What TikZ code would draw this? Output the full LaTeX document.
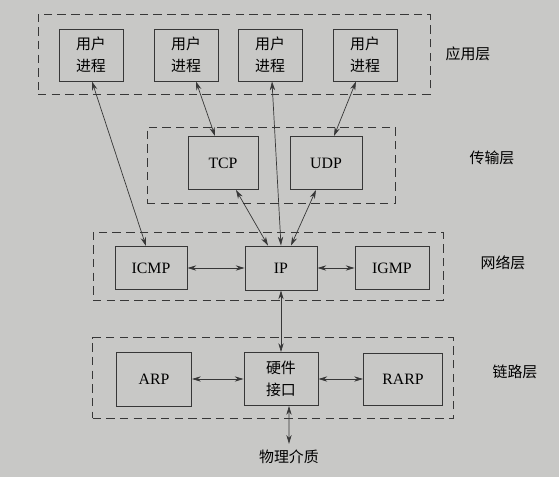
\documentclass[tikz,border=0pt]{standalone}
\usepackage{fontspec}
\setmainfont{Liberation Serif}
\newfontfamily\cjk{Noto Sans CJK SC}
\usetikzlibrary{arrows.meta, positioning}
\definecolor{pagegray}{RGB}{200,200,198}
\definecolor{inkgray}{RGB}{55,55,55}
\tikzset{
    stack/.style={font=\fontsize{9}{11}\selectfont, x=0.02cm, y=-0.02cm},
    stack box/.style={draw=inkgray, line width=0.55pt, align=center,
        minimum width=1.28cm, minimum height=1.04cm},
    stack cjk box/.style={stack box, font=\cjk\fontsize{8.5}{12.5}\selectfont},
    stack layer/.style={draw=inkgray, line width=0.45pt, dash pattern=on 4.8pt off 3pt,
        inner sep=0pt},
    stack arrow/.style={<->, >={Stealth[length=5pt, width=3pt]}, thin, draw=inkgray},
    stack label/.style={font=\cjk\fontsize{8.5}{11}\selectfont},
}
\begin{document}
\begin{tikzpicture}[stack]
  \useasboundingbox (0,0) rectangle (559,477);
  \fill[pagegray] (0,0) rectangle (559,477);
  % layers
  \node[stack layer, minimum width=7.84cm, minimum height=1.6cm] (applayer) at (234,54) {};
  \node[stack layer, minimum width=4.96cm, minimum height=1.52cm] (translayer) at (271,165) {};
  \node[stack layer, minimum width=7.0cm, minimum height=1.36cm] (netlayer) at (268,266) {};
  \node[stack layer, minimum width=7.22cm, minimum height=1.62cm] (linklayer) at (273,378) {};
  \node[stack label] (applabel) at (468,54) {应用层};
  \node[stack label] (translabel) at (492,158) {传输层};
  \node[stack label] (netlabel) at (503,263) {网络层};
  \node[stack label] (linklabel) at (515,372) {链路层};
  % application
  \node[stack cjk box] (userA) at (91,55) {用户\\进程};
  \node[stack cjk box] (userB) at (186,55) {用户\\进程};
  \node[stack cjk box] (userC) at (270,55) {用户\\进程};
  \node[stack cjk box] (userD) at (365,55) {用户\\进程};
  % transport
  \node[stack box, minimum width=1.4cm, minimum height=1.06cm] (tcp) at (223,163) {TCP};
  \node[stack box, minimum width=1.44cm, minimum height=1.06cm] (udp) at (326,163) {UDP};
  % network
  \node[stack box, minimum width=1.44cm, minimum height=0.86cm] (icmp) at (151,268) {ICMP};
  \node[stack box, minimum width=1.44cm, minimum height=0.88cm] (ip) at (281,268) {IP};
  \node[stack box, minimum width=1.48cm, minimum height=0.86cm] (igmp) at (392,268) {IGMP};
  % link
  \node[stack box, minimum width=1.5cm, minimum height=1.08cm] (arp) at (154,379) {ARP};
  \node[stack cjk box, minimum width=1.48cm, minimum height=1.06cm] (hw) at (281,379) {硬件\\接口};
  \node[stack box, minimum width=1.58cm, minimum height=1.04cm] (rarp) at (403,379) {RARP};
  \node[stack label] (media) at (289,457) {物理介质};
  % connections
  \draw[stack arrow] ([xshift=0.02cm]userA.south) -- ([xshift=-0.1cm]icmp.north);
  \draw[stack arrow] ([xshift=0.2cm]userB.south) -- ([xshift=-0.16cm]tcp.north);
  \draw[stack arrow] ([xshift=0.04cm]userC.south) -- (ip.north);
  \draw[stack arrow] ([xshift=-0.18cm]userD.south) -- ([xshift=0.16cm]udp.north);
  \draw[stack arrow] ([xshift=0.26cm]tcp.south) -- ([xshift=-0.26cm]ip.north);
  \draw[stack arrow] ([xshift=-0.2cm]udp.south) -- ([xshift=0.2cm]ip.north);
  \draw[stack arrow] (icmp) -- (ip);
  \draw[stack arrow] (ip) -- (igmp);
  \draw[stack arrow] (ip) -- (hw);
  \draw[stack arrow] (arp) -- (hw);
  \draw[stack arrow] (hw) -- (rarp);
  \draw[stack arrow] ([xshift=0.16cm]hw.south) -- (media.north);
\end{tikzpicture}
\end{document}
